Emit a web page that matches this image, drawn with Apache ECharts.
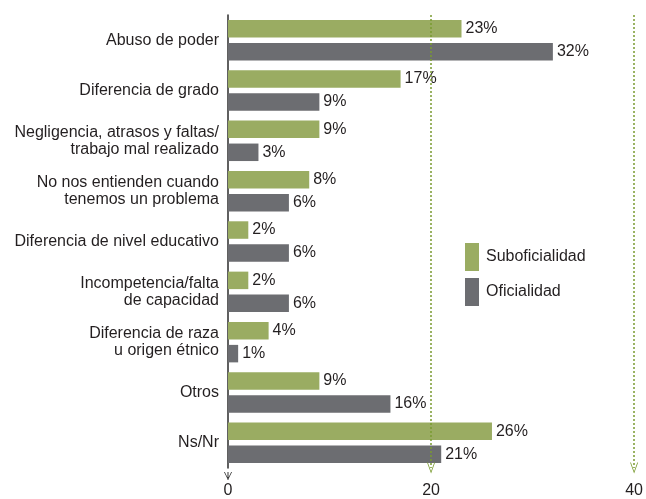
<!DOCTYPE html>
<html>
<head>
<meta charset="utf-8">
<script src="https://cdn.jsdelivr.net/npm/echarts@6/dist/echarts.min.js"></script>
<style>
  html, body { margin: 0; padding: 0; background: #fff; }
  #chart { width: 646px; height: 499px; }
</style>
</head>
<body>
<div id="chart"></div>
<script>
// Motivos de conflicto, por grupo (%)
const categories = [
  'Abuso de poder',
  'Diferencia de grado',
  'Negligencia, atrasos y faltas/\ntrabajo mal realizado',
  'No nos entienden cuando\ntenemos un problema',
  'Diferencia de nivel educativo',
  'Incompetencia/falta\nde capacidad',
  'Diferencia de raza\nu origen étnico',
  'Otros',
  'Ns/Nr'
];
const suboficialidad = [23, 17, 9, 8, 2, 2, 4, 9, 26];
const oficialidad = [32, 9, 3, 6, 6, 6, 1, 16, 21];
const xTicks = [0, 20, 40];

const GREEN = '#9aac62';
const GRAY = '#6c6d71';
const GUIDE = '#7a9b30';
const TEXT = '#231f20';
const FONT = '"Liberation Sans", Arial, Helvetica, sans-serif';
// open chevron used as arrow head
const CHEVRON = 'path://M0,10L5,0L10,10L9,10L5,2L1,10Z';
// chevron with a stem through its middle, for the category axis line
const CHEVRON_STEM = 'path://M0,10L5,0L10,10L9,10L5,2L1,10Z M4.4,0L5.6,0L5.6,10L4.4,10Z';

const chart = echarts.init(document.getElementById('chart'));

const valueLabel = {
  show: true,
  position: 'right',
  distance: 4,
  color: TEXT,
  fontSize: 16,
  fontFamily: FONT,
  formatter: p => p.value + '%'
};

chart.setOption({
  animation: false,
  textStyle: { fontFamily: FONT },
  grid: { left: 228, right: 11, top: 15, bottom: 29, containLabel: false },
  legend: {
    orient: 'vertical',
    left: 465,
    top: 243,
    padding: 0,
    itemWidth: 14,
    itemHeight: 28,
    itemGap: 7,
    icon: 'rect',
    textStyle: { color: TEXT, fontSize: 16, fontFamily: FONT, padding: [0, 0, 0, 2] },
    data: ['Suboficialidad', 'Oficialidad']
  },
  xAxis: {
    type: 'value',
    min: xTicks[0],
    max: xTicks[xTicks.length - 1],
    interval: xTicks[1] - xTicks[0],
    axisLine: { show: false },
    axisTick: { show: false },
    splitLine: { show: false },
    axisLabel: { color: TEXT, fontSize: 16, fontFamily: FONT, margin: 15 }
  },
  yAxis: {
    type: 'category',
    inverse: true,
    data: categories,
    axisTick: { show: false },
    axisLine: {
      show: true,
      lineStyle: { color: '#2b2b2b', width: 1.5 },
      symbol: [CHEVRON_STEM, 'none'],
      symbolSize: [8, 12],
      symbolOffset: [-8, 0]
    },
    axisLabel: {
      color: TEXT,
      fontSize: 16,
      fontFamily: FONT,
      margin: 9,
      lineHeight: 17,
      align: 'right'
    }
  },
  series: [
    {
      name: 'Suboficialidad',
      type: 'bar',
      data: suboficialidad,
      barWidth: 17.5,
      barGap: '31%',
      itemStyle: { color: GREEN },
      label: valueLabel,
      markLine: {
        silent: true,
        symbol: ['none', CHEVRON],
        symbolSize: [8, 11],
        label: { show: false },
        lineStyle: { color: GUIDE, type: [2, 2], width: 1.5, opacity: 1 },
        emphasis: { disabled: true },
        data: xTicks.slice(1).map(v => ({ xAxis: v }))
      }
    },
    {
      name: 'Oficialidad',
      type: 'bar',
      data: oficialidad,
      barWidth: 17.5,
      itemStyle: { color: GRAY },
      label: valueLabel
    }
  ]
});
</script>
</body>
</html>
